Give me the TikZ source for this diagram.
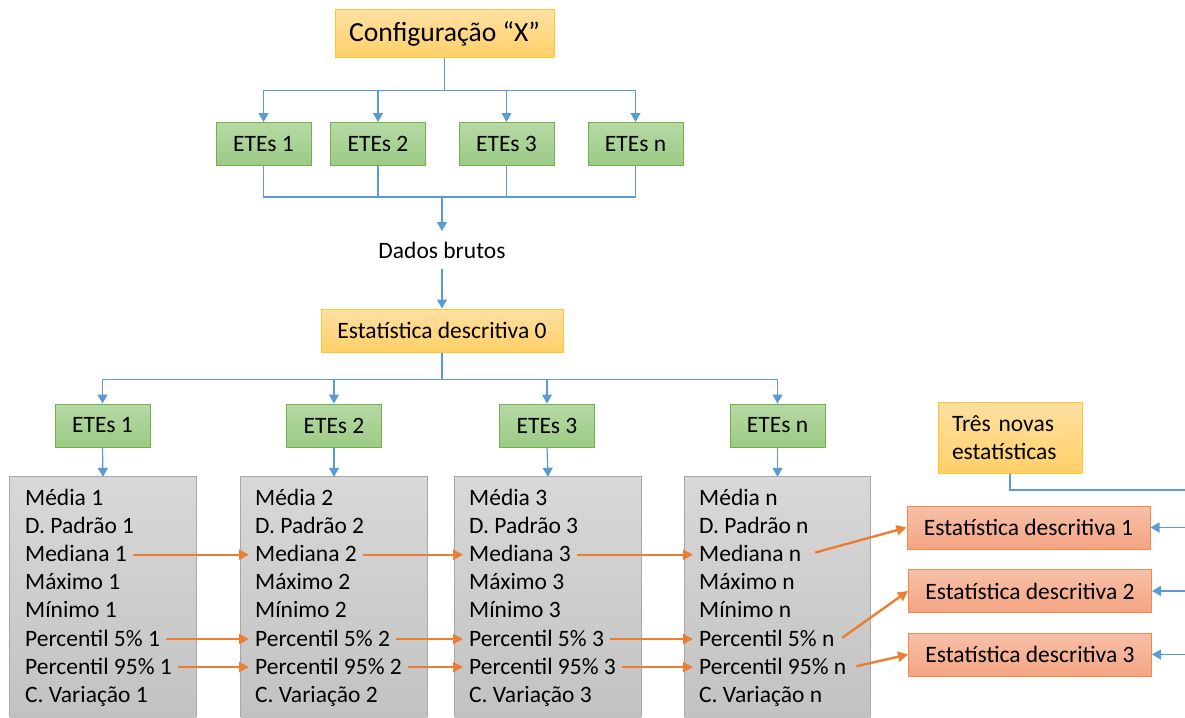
\documentclass[tikz,border=0pt]{standalone}
\usepackage{fontspec}
\setmainfont{Carlito}
\usetikzlibrary{arrows.meta}
\definecolor{bl}{HTML}{5B9BD5}
\definecolor{org}{HTML}{ED7D31}
\definecolor{yelT}{HTML}{FFE0A2}
\definecolor{yelM}{HTML}{FFD068}
\definecolor{yelB}{HTML}{FFC52E}
\definecolor{grnT}{HTML}{B7D9A5}
\definecolor{grnM}{HTML}{9BCB85}
\definecolor{grnB}{HTML}{75B04E}
\definecolor{gryT}{HTML}{D8D8D8}
\definecolor{gryM}{HTML}{C2C2C2}
\definecolor{gryB}{HTML}{A8A8A8}
\definecolor{orT}{HTML}{F7C0A8}
\definecolor{orM}{HTML}{F4A582}
\definecolor{orB}{HTML}{F08A4B}
\begin{document}
\begin{tikzpicture}[x=1pt,y=-1pt,
  font=\fontsize{23.5}{28}\selectfont,
  yel/.style={draw=yelB, top color=yelT, bottom color=yelM, line width=1pt, inner sep=0pt},
  grn/.style={draw=grnB, top color=grnT, bottom color=grnM, line width=1pt, minimum width=95, minimum height=43, inner sep=0pt},
  gry/.style={top color=gryT, bottom color=gryM, minimum width=186, minimum height=240, inner sep=0pt},
  ora/.style={draw=orB, top color=orT, bottom color=orM, line width=1pt, minimum width=243, minimum height=43, inner sep=0pt},
  item/.style={anchor=base west, inner xsep=6pt, inner ysep=0pt, text height=17pt, text depth=3pt},
  conn/.style={draw=bl, line width=1.2pt},
  barrow/.style={conn, -{Triangle[width=10pt,length=9pt]}},
  oarrow/.style={draw=org, line width=2.4pt, -{Triangle[width=10pt,length=10pt]}}
]
\useasboundingbox (0,0) rectangle (1185,717);

% top section
\node[yel, minimum width=219, minimum height=48, font=\fontsize{27.6}{32}\selectfont] (cfg) at (444.5,34) {Configuração “X”};
\node[grn] (a1) at (263.5,144) {ETEs 1};
\node[grn] (a2) at (378,144) {ETEs 2};
\node[grn] (a3) at (506.5,144) {ETEs 3};
\node[grn] (a4) at (635.5,144) {ETEs n};
\foreach \n in {a1,a2,a3,a4}
  \draw[barrow] (cfg.south) -- ++(0,32) -| (\n.north);

\coordinate (j) at (442,197);
\foreach \n in {a1,a2,a3,a4}
  \draw[conn] (\n.south) |- (j);
\node[inner sep=10.5pt] (dados) at (442,250) {Dados brutos};
\draw[barrow] (j) -- (dados.north);

\node[yel, minimum width=242, minimum height=43] (e0) at (442,330.5) {Estatística descritiva 0};
\draw[barrow] (dados.south) -- (e0.north);

% second level
\node[grn] (b1) at (102.5,425.5) {ETEs 1};
\node[grn] (b2) at (334,425.5) {ETEs 2};
\node[grn] (b3) at (547,425.5) {ETEs 3};
\node[grn] (b4) at (777.5,425.5) {ETEs n};
\foreach \n in {b1,b2,b3,b4}
  \draw[barrow] (e0.south) -- ++(0,27) -| (\n.north);

% gray boxes
\node[gry] (g1) at (103,597) {};
\node[gry] (g2) at (334,597) {};
\node[gry] (g3) at (548,597) {};
\node[gry] (g4) at (777.5,597) {};
\foreach \n in {g1,g2,g3,g4}
  \draw[draw=gryB, line width=0.8pt] (\n.south west) -- (\n.north west) -- (\n.north east) -- (\n.south east);
\draw[barrow] (b1.south) -- (g1.north);
\draw[barrow] (b2.south) -- (g2.north);
\draw[barrow] (b3.south) -- (g3.north);
\draw[barrow] (b4.south) -- (g4.north);

\foreach \s/\tx [count=\c] in {1/25, 2/255, 3/469, n/699}
  \foreach \lab [count=\r] in {Média, D. Padrão, Mediana, Máximo, Mínimo, Percentil 5\%, Percentil 95\%, C. Variação}
    \node[item] (c\c-\r) at ({\tx-6},{505.5+28.1*(\r-1)}) {\lab\ \s};

% right side
\node[yel, minimum width=144, minimum height=71, text width=116, inner xsep=14pt, align=left] (tres) at (1010,437.5) {Três novas\\estatísticas};
\node[ora] (ed1) at (1028.5,527.5) {Estatística descritiva 1};
\node[ora] (ed2) at (1030,591) {Estatística descritiva 2};
\node[ora] (ed3) at (1030,654.5) {Estatística descritiva 3};

\coordinate (rt) at (1185,490);
\coordinate (r1) at (1185,527.5);
\coordinate (r2) at (1185,591);
\coordinate (r3) at (1185,654.5);
\draw[conn] (tres.south) |- (rt);
\draw[barrow] (r1) -- (ed1.east);
\draw[barrow] (r2) -- (ed2.east);
\draw[barrow] (r3) -- (ed3.east);

% orange arrows
\foreach \r in {3,6,7} {
  \draw[oarrow] (c1-\r.east) -- (c2-\r.west);
  \draw[oarrow] (c2-\r.east) -- (c3-\r.west);
  \draw[oarrow] (c3-\r.east) -- (c4-\r.west);
}
\draw[oarrow, shorten <=8pt] (c4-3.east) -- (ed1.west);
\draw[oarrow, shorten <=2pt] (c4-6.east) -- (ed2.west);
\draw[oarrow, shorten <=4pt] (c4-7.east) -- (ed3.west);
\end{tikzpicture}
\end{document}
